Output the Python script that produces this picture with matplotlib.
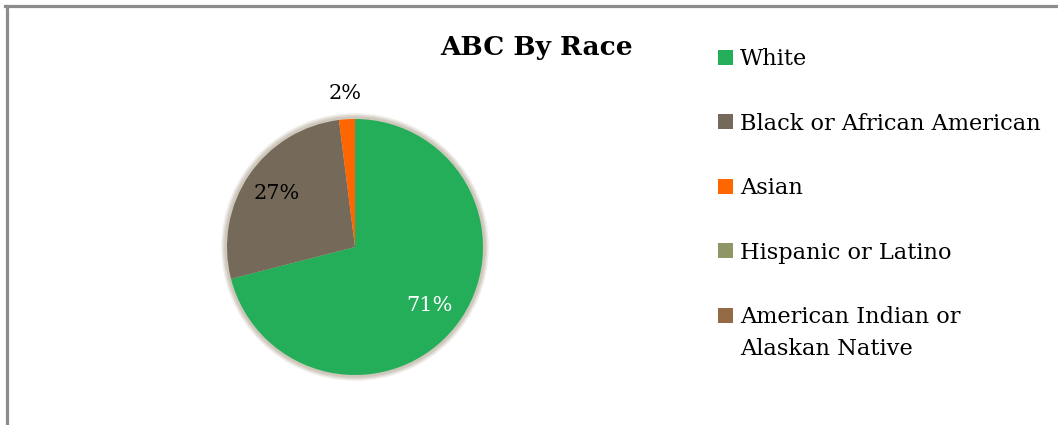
import matplotlib.pyplot as plt
from matplotlib.patches import Circle, Rectangle
from matplotlib.lines import Line2D

# Data
categories = ["White", "Black or African American", "Asian",
              "Hispanic or Latino", "American Indian or\nAlaskan Native"]
shares = [71, 27, 2, 0, 0]
colors = ["#25ae5a", "#756a5a", "#ff6600", "#8f9565", "#936a43"]

plt.rcParams['font.family'] = ['DejaVu Serif']

W, H = 1058, 425
fig = plt.figure(figsize=(W / 100, H / 100), dpi=100)

# frame lines (top and left) like the original sheet border
fig.add_artist(Line2D([5 / W, 1], [1 - 6 / H, 1 - 6 / H], color='#8c8c8c', lw=2.3))
fig.add_artist(Line2D([6.5 / W, 6.5 / W], [0, 1 - 6 / H], color='#8c8c8c', lw=2.3))

# pie axes: centre (355, 247) px, radius 128 px
cx, cy, r = 355, 247, 128
ax = fig.add_axes([(cx - r) / W, (H - cy - r) / H, 2 * r / W, 2 * r / H])

# soft shadow ring around the pie
for rad, a in [(1.045, 0.3), (1.032, 0.5), (1.02, 0.8)]:
    ax.add_patch(Circle((0, 0), rad, color='#cbc3b7', alpha=a, zorder=0,
                        clip_on=False, lw=0))

wedges, texts, autotexts = ax.pie(
    shares, colors=colors, startangle=90, counterclock=False,
    autopct=lambda p: f"{p:.0f}%" if p > 0 else "",
    pctdistance=0.74, wedgeprops=dict(linewidth=0),
    textprops=dict(fontsize=15))
ax.set_xlim(-1, 1)
ax.set_ylim(-1, 1)

# label colours / small slice label outside the pie
autotexts[0].set_color('white')
autotexts[1].set_color('black')
small = autotexts[2]
x, y = small.get_position()
small.set_position((x * 1.2 / 0.74, y * 1.2 / 0.74))
small.set_color('black')

fig.text(537 / W, 1 - 47 / H, "ABC By Race", ha='center', va='center',
         fontsize=19, fontweight='bold')

# legend drawn entry by entry (last label wraps onto two lines)
row0, step, sq = 57, 64.5, 15
for i, (lab, col) in enumerate(zip(categories, colors)):
    yc = row0 + i * step
    fig.add_artist(Rectangle((718 / W, 1 - (yc + sq / 2) / H), sq / W, sq / H,
                             color=col, lw=0))
    for j, line in enumerate(lab.split("\n")):
        fig.text(740 / W, 1 - (yc + 8 + j * 32) / H, line, ha='left',
                 va='baseline', fontsize=16.2)

fig.savefig("out.png", dpi=100)
